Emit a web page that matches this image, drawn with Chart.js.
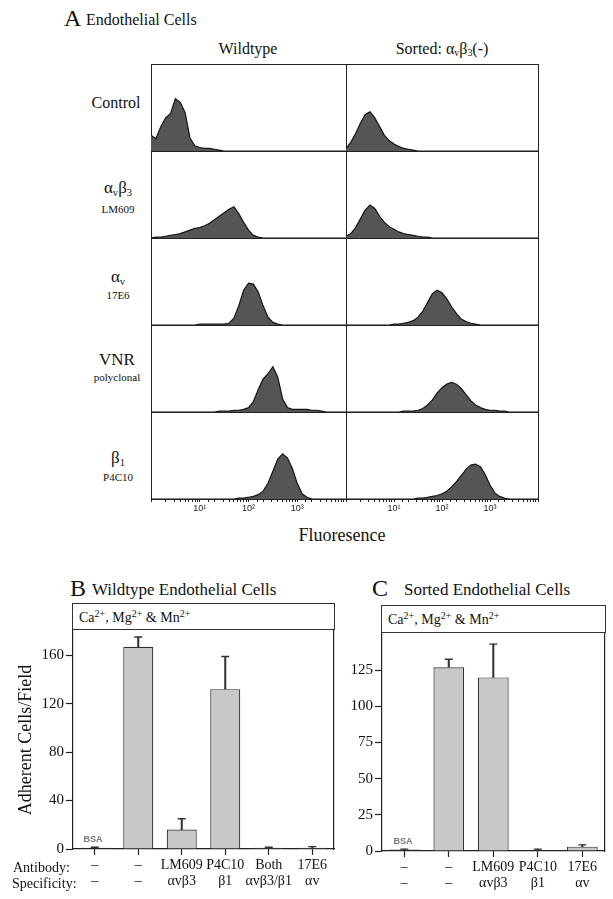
<!DOCTYPE html>
<html>
<head>
<meta charset="utf-8">
<script src="https://cdn.jsdelivr.net/npm/chart.js@4.4.0/dist/chart.umd.min.js"></script>
<style>
  body { margin: 0; background: #fff; }
  #page { position: relative; width: 613px; height: 899px; overflow: hidden; font-family: "Liberation Serif", "Times New Roman", serif; color: #111; }
  .t { position: absolute; white-space: nowrap; line-height: 1; }
  .c { text-align: center; }
  canvas { position: absolute; }
  .hdr { position: absolute; box-sizing: border-box; border: 1.2px solid #333; font-size: 14px; padding: 6px 0 0 6px; }
  .hdr sup { font-size: 10px; vertical-align: 5px; line-height: 0; }
  sub { font-size: 0.62em; vertical-align: -0.25em; line-height: 0; }
  .bsa { font-family: "Liberation Sans", sans-serif; font-weight: bold; font-size: 9px; color: #777; }
</style>
</head>
<body>
<div id="page">
  <div class="t" style="left:64px;top:6px;font-size:24px">A</div>
  <div class="t" style="left:86px;top:12px;font-size:16px">Endothelial Cells</div>
  <div class="t c" style="left:188px;top:41px;width:120px;font-size:16px">Wildtype</div>
  <div class="t c" style="left:372px;top:41px;width:140px;font-size:16px">Sorted: α<sub>v</sub>β<sub>3</sub>(-)</div>

  <div class="t c" style="left:78px;top:95px;width:76px;font-size:16px">Control</div>
  <div class="t c" style="left:80px;top:179px;width:76px;font-size:17px">α<sub>v</sub>β<sub>3</sub></div>
  <div class="t c" style="left:80px;top:204px;width:76px;font-size:11px">LM609</div>
  <div class="t c" style="left:80px;top:268px;width:76px;font-size:17px">α<sub>v</sub></div>
  <div class="t c" style="left:80px;top:290px;width:76px;font-size:11px">17E6</div>
  <div class="t c" style="left:79px;top:351px;width:76px;font-size:17px">VNR</div>
  <div class="t c" style="left:79px;top:372px;width:76px;font-size:11px">polyclonal</div>
  <div class="t c" style="left:80px;top:449px;width:76px;font-size:17px">β<sub>1</sub></div>
  <div class="t c" style="left:80px;top:472px;width:76px;font-size:11px">P4C10</div>

  <div class="t c" style="left:282px;top:526px;width:120px;font-size:18px">Fluoresence</div>

  <canvas id="histWt" width="197" height="458" style="left:150px;top:63px"></canvas>
  <canvas id="histSorted" width="194" height="458" style="left:345px;top:63px"></canvas>

  <div class="t" style="left:70px;top:576px;font-size:24px">B</div>
  <div class="t" style="left:92px;top:581px;font-size:17px">Wildtype Endothelial Cells</div>
  <div class="t" style="left:372px;top:576px;font-size:24px">C</div>
  <div class="t" style="left:404px;top:581px;font-size:17px">Sorted Endothelial Cells</div>

  <div class="hdr" style="left:72px;top:603px;width:263px;height:27px">Ca<sup>2+</sup>, Mg<sup>2+</sup> &amp; Mn<sup>2+</sup></div>
  <div class="hdr" style="left:381px;top:605px;width:225px;height:28px">Ca<sup>2+</sup>, Mg<sup>2+</sup> &amp; Mn<sup>2+</sup></div>

  <canvas id="barB" width="327" height="279" style="left:13px;top:620px"></canvas>
  <canvas id="barC" width="270" height="278" style="left:340px;top:623px"></canvas>

  <div class="t c bsa" style="left:73px;top:835px;width:40px">BSA</div>
  <div class="t c bsa" style="left:383px;top:837px;width:40px">BSA</div>
  <div class="t" style="left:13px;top:861px;font-size:14px">Antibody:</div>
  <div class="t" style="left:12px;top:877px;font-size:14px">Specificity:</div>
</div>

<script>
// ---- Panel A: flow cytometry histograms (x in log decades, y in % of row height)
const decades = [0, 0.1, 0.2, 0.3, 0.4, 0.5, 0.6, 0.7, 0.8, 0.9,
                 1, 1.1, 1.2, 1.3, 1.4, 1.5, 1.6, 1.7, 1.8, 1.9,
                 2, 2.1, 2.2, 2.3, 2.4, 2.5, 2.6, 2.7, 2.8, 2.9,
                 3, 3.1, 3.2, 3.3, 3.4, 3.5, 3.6, 3.7, 3.8, 3.9, 4];

const wtControl = [18,14,28,38,43,60,56,44,15,6, 4,3,3,2,1,0,0,0,0,0, 0,0,0,0,0,0,0,0,0,0, 0,0,0,0,0,0,0,0,0,0,0];
const wtAvb3    = [0,1,1,2,3,4,5,7,9,11, 12,14,17,21,25,29,33,36,28,18, 9,3,1,0,0,0,0,0,0,0, 0,0,0,0,0,0,0,0,0,0,0];
const wtAv      = [0,0,0,0,0,0,0,0,0,0, 1,1,1,1,1,1,2,8,22,40, 48,47,38,22,9,3,1,0,0,0, 0,0,0,0,0,0,0,0,0,0,0];
const wtVnr     = [0,0,0,0,0,0,0,0,0,0, 0,0,0,0,1,1,1,2,2,3, 5,12,26,38,44,52,40,15,5,3, 3,3,3,2,2,1,0,0,0,0,0];
const wtB1      = [0,0,0,0,0,0,0,0,0,0, 0,0,0,0,0,0,0,0,1,1, 2,3,5,9,18,32,46,52,47,35, 18,6,2,0,0,0,0,0,0,0,0];

const srControl = [3,10,20,32,42,45,38,28,18,12, 8,5,3,2,1,0,0,0,0,0, 0,0,0,0,0,0,0,0,0,0, 0,0,0,0,0,0,0,0,0,0,0];
const srAvb3    = [2,5,12,22,32,38,34,25,18,13, 10,7,5,4,3,2,1,1,0,0, 0,0,0,0,0,0,0,0,0,0, 0,0,0,0,0,0,0,0,0,0,0];
const srAv      = [0,0,0,0,0,0,0,0,0,0, 1,1,2,3,5,9,16,26,36,40, 37,30,21,13,7,4,2,1,0,0, 0,0,0,0,0,0,0,0,0,0,0];
const srVnr     = [0,0,0,0,0,0,0,0,0,0, 0,0,1,1,1,2,4,8,14,22, 28,32,34,32,27,20,13,8,5,3, 2,2,1,1,0,0,0,0,0,0,0];
const srB1      = [0,0,0,0,0,0,0,0,0,0, 0,0,0,0,0,1,1,2,3,4, 6,9,14,20,27,34,39,40,37,28, 16,7,3,1,0,0,0,0,0,0,0];

const fluorTickValues = [10, 100, 1000];
const fluorTickLabels = ['10\u00B9', '10\u00B2', '10\u00B3'];

// ---- Panels B and C: adhesion bar charts
const bCategories = [['\u2013', '\u2013'], ['\u2013', '\u2013'], ['LM609', '\u03B1v\u03B23'], ['P4C10', '\u03B21'], ['Both', '\u03B1v\u03B23/\u03B21'], ['17E6', '\u03B1v']];
const bMeans  = [1, 167, 16, 132, 1, 1];
const bErrors = [0.5, 8, 9, 27, 0.5, 1];
const bTicks  = [0, 40, 80, 120, 160];

const cCategories = [['\u2013', '\u2013'], ['\u2013', '\u2013'], ['LM609', '\u03B1v\u03B23'], ['P4C10', '\u03B21'], ['17E6', '\u03B1v']];
const cMeans  = [1, 127, 120, 0.5, 3];
const cErrors = [0.3, 5.5, 23, 0.8, 1.2];
const cTicks  = [0, 25, 50, 75, 100, 125];

const LINE = '#222';
const SERIF = '"Liberation Serif", "Times New Roman", serif';

function histogramChart(canvasId, rows) {
  const scales = {
    x: {
      type: 'logarithmic', min: 1, max: 10000, position: 'bottom',
      afterFit: s => { s.height = 22; },
      border: { display: true, color: LINE, width: 1 },
      grid: {
        drawOnChartArea: true, tickLength: 3, tickColor: LINE,
        color: c => (c.tick && (c.tick.value === 1 || c.tick.value === 10000)) ? LINE : 'rgba(0,0,0,0)'
      },
      ticks: {
        autoSkip: false, maxRotation: 0, padding: 1, color: '#222',
        font: { family: '"Liberation Sans", sans-serif', size: 9 },
        callback: v => {
          const i = fluorTickValues.indexOf(v);
          return i >= 0 ? fluorTickLabels[i] : '';
        }
      }
    }
  };
  // later-defined stacked axes are placed on top, so add bottom row first
  for (let i = rows.length - 1; i >= 0; i--) {
    scales['y' + i] = {
      type: 'linear', position: 'left', stack: 'rows', stackWeight: 1, min: 0, max: 100,
      afterBuildTicks: s => { s.ticks = [{ value: 0 }, { value: 100 }]; },
      afterFit: s => { s.width = 0; },
      ticks: { display: false },
      grid: { color: LINE, drawTicks: false, lineWidth: 1 },
      border: { display: true, color: LINE }
    };
  }
  const datasets = rows.map((counts, i) => ({
    data: counts.map((v, k) => ({ x: Math.pow(10, decades[k]), y: v })),
    yAxisID: 'y' + i,
    fill: 'origin',
    backgroundColor: '#555',
    borderColor: '#151515',
    borderWidth: 1.2,
    pointRadius: 0,
    tension: 0
  }));
  return new Chart(document.getElementById(canvasId), {
    type: 'line',
    data: { datasets },
    options: {
      responsive: false, animation: false,
      layout: { padding: { left: 1, right: 1, top: 1, bottom: 0 } },
      plugins: { legend: { display: false }, tooltip: { enabled: false } },
      scales
    }
  });
}

function barChart(canvasId, categories, means, errors, yMax, ticks, yWidth, padRight, yTitle) {
  // BSA control bar (first) is printed dark in the figure
  const fills = means.map((m, i) => i === 0 ? '#3a3a3a' : '#c8c8c8');
  return new Chart(document.getElementById(canvasId), {
    data: {
      labels: categories,
      datasets: [
        {
          type: 'line', data: means.map((m, i) => m + errors[i]),
          showLine: false, pointStyle: 'line', pointRadius: 4, pointBorderWidth: 1.4,
          pointBorderColor: '#333', borderColor: '#333', order: 0
        },
        {
          type: 'bar', data: means.map((m, i) => [m, m + errors[i]]),
          backgroundColor: '#333', barThickness: 1.4, grouped: false, borderWidth: 0, order: 1
        },
        {
          type: 'bar', data: means,
          backgroundColor: fills, borderColor: '#333', borderWidth: 1.2,
          barPercentage: 0.69, categoryPercentage: 1, grouped: false, order: 2
        }
      ]
    },
    options: {
      responsive: false, animation: false,
      layout: { padding: { left: 0, right: padRight, top: 0, bottom: 0 } },
      plugins: { legend: { display: false }, tooltip: { enabled: false } },
      scales: {
        x: {
          type: 'category', offset: true,
          afterFit: s => { s.height = 50; },
          border: { display: true, color: LINE, width: 1.2 },
          grid: { offset: false, drawOnChartArea: false, tickLength: 6, tickColor: LINE, tickWidth: 1.2 },
          ticks: { autoSkip: false, maxRotation: 0, padding: 2, color: '#111', font: { family: SERIF, size: 14, lineHeight: 1.15 } }
        },
        y: {
          min: 0, max: yMax,
          afterBuildTicks: s => { s.ticks = ticks.map(v => ({ value: v })); },
          afterFit: s => { s.width = yWidth; },
          border: { display: true, color: LINE, width: 1.2 },
          grid: { drawOnChartArea: false, tickLength: 7, tickColor: LINE, tickWidth: 1.2 },
          ticks: { padding: 2, color: '#111', font: { family: SERIF, size: 15 } },
          title: { display: !!yTitle, text: yTitle || '', color: '#111', font: { family: SERIF, size: 18 }, padding: 2 }
        },
        y2: {
          position: 'right', min: 0, max: yMax,
          afterFit: s => { s.width = 0; },
          ticks: { display: false },
          grid: { display: false },
          border: { display: true, color: LINE, width: 1.2 }
        }
      }
    }
  });
}

histogramChart('histWt', [wtControl, wtAvb3, wtAv, wtVnr, wtB1]);
histogramChart('histSorted', [srControl, srAvb3, srAv, srVnr, srB1]);
barChart('barB', bCategories, bMeans, bErrors, 180, bTicks, 60, 6, 'Adherent Cells/Field');
barChart('barC', cCategories, cMeans, cErrors, 150, cTicks, 42, 5, '');
</script>
</body>
</html>
